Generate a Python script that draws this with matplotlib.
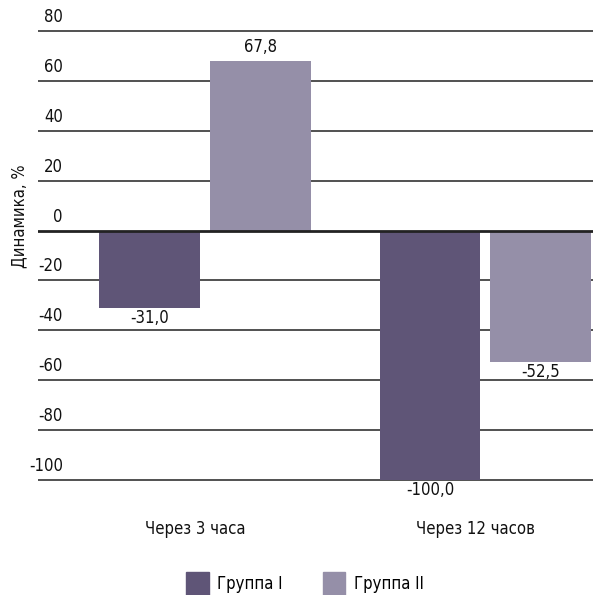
import matplotlib
matplotlib.use("Agg")
import matplotlib.pyplot as plt
import matplotlib.transforms as mtransforms
from matplotlib.patches import Patch
import numpy as np

plt.rcParams['font.family'] = ['DejaVu Sans']
plt.rcParams['font.stretch'] = 'condensed'

categories = ["Через 3 часа", "Через 12 часов"]
group1 = [-31.0, -100.0]
group2 = [67.8, -52.5]
series_names = ["Группа I", "Группа II"]
yticks = [-100, -80, -60, -40, -20, 0, 20, 40, 60, 80]

c1 = "#5f5577"
c2 = "#958fa8"
FS = 12

fig = plt.figure(figsize=(5.93, 5.95), dpi=100)
ax = fig.add_axes([38/593, 1 - 481/595, 1 - 38/593, 451/595])

x = np.arange(len(categories))
w = 0.36
off = 0.198
b1 = ax.bar(x - off, group1, w, color=c1, zorder=3)
b2 = ax.bar(x + off, group2, w, color=c2, zorder=3)

ax.set_xlim(-0.597, 1.384)
ax.set_ylim(-100.4, 80.4)

for t in yticks:
    ax.axhline(t, color="#222222", lw=2.0 if t == 0 else 1.1, zorder=4 if t == 0 else 1)

base = mtransforms.blended_transform_factory(ax.transAxes, ax.transData)
trans = base + mtransforms.ScaledTranslation(0, 5/100, fig.dpi_scale_trans)
for t in yticks:
    ax.text(0.045, t, str(t), transform=trans, ha="right", va="bottom",
            fontsize=FS, color="#111111")

def fmt(v):
    return f"{v:.1f}".replace(".", ",")

for rects, vals in ((b1, group1), (b2, group2)):
    for r, v in zip(rects, vals):
        cx = r.get_x() + r.get_width() / 2
        if v >= 0:
            ax.annotate(fmt(v), (cx, v), xytext=(0, 4), textcoords="offset points",
                        ha="center", va="bottom", fontsize=FS, color="#111111")
        else:
            ax.annotate(fmt(v), (cx, v), xytext=(0, -1), textcoords="offset points",
                        ha="center", va="top", fontsize=FS, color="#111111")

ax.set_xticks(x - 0.035)
ax.set_xticklabels(categories, fontsize=FS, color="#111111")
ax.tick_params(axis="x", length=0, pad=28)
ax.set_yticks([])
for s in ax.spines.values():
    s.set_visible(False)

fig.text(19/593, 1 - 216/595, "Динамика, %", rotation=90, ha="center", va="center",
         fontsize=FS, color="#111111")

handles = [Patch(color=c1), Patch(color=c2)]
fig.legend(handles, series_names, loc="center", bbox_to_anchor=(305/593, 1 - 584/595),
           ncol=2, frameon=False, fontsize=FS, handlelength=1.35, handleheight=1.75,
           columnspacing=2.4, handletextpad=0.5)

fig.savefig("out.png", dpi=100)
